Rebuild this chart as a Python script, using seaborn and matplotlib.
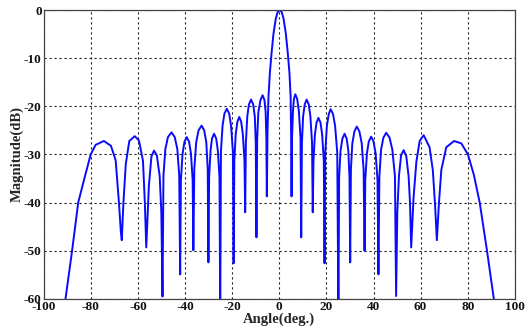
import matplotlib
matplotlib.use("Agg")
import matplotlib.pyplot as plt
import seaborn as sns
import pandas as pd

# Array-factor pattern, sampled at nulls, lobe shoulders and lobe peaks
angle_deg = [
    -91.2, -90.8, -88.0, -85.4, -83.0, -80.1, -78.0, -74.5, -71.5, -69.5, -68.1, -67.3, -66.9,
    -66.2, -65.2, -63.7, -61.4, -59.6, -57.9, -57.1, -56.5,
    -55.4, -54.3, -53.2, -52.0, -50.8, -50.1, -49.6,
    -49.2, -48.4, -47.3, -45.8, -44.4, -43.3, -42.5, -42.1,
    -41.8, -41.1, -40.3, -39.3, -38.3, -37.5, -36.8, -36.5,
    -36.1, -35.3, -34.3, -33.0, -31.9, -31.0, -30.4, -30.1,
    -29.8, -29.2, -28.6, -27.7, -26.8, -26.1, -25.4, -25.1,
    -24.8, -24.1, -23.3, -22.3, -21.3, -20.5, -19.7, -19.4,
    -19.1, -18.5, -17.8, -17.0, -16.2, -15.5, -14.8, -14.5,
    -14.2, -13.6, -12.9, -12.0, -11.1, -10.4, -10.0, -9.7,
    -9.4, -8.9, -8.0, -7.1, -6.3, -5.8, -5.5, -5.3,
    -5.0, -4.6, -4.0, -3.3, -2.5, -1.5, -0.7, 0.2, 1.0, 1.8, 2.8, 3.6, 4.3, 4.8, 5.0, 5.2,
    5.4, 5.8, 6.2, 6.8, 7.6, 8.3, 9.0, 9.3,
    9.6, 10.1, 10.8, 11.6, 12.5, 13.2, 13.9, 14.2,
    14.5, 15.1, 15.8, 16.6, 17.5, 18.2, 18.9, 19.2,
    19.5, 20.2, 21.0, 21.8, 22.8, 23.7, 24.6, 25.1,
    25.4, 26.0, 26.8, 27.7, 28.6, 29.3, 29.8, 30.1,
    30.4, 31.0, 31.9, 32.9, 34.0, 35.0, 35.8, 36.2,
    36.5, 37.2, 38.0, 39.0, 40.0, 40.9, 41.7, 42.1,
    42.5, 43.2, 44.2, 45.4, 46.8, 48.0, 49.1, 49.6,
    50.1, 50.8, 51.7, 52.8, 53.9, 54.9, 55.5, 56.0,
    57.0, 58.2, 59.6, 61.3, 63.8, 65.2, 66.2, 66.9,
    67.8, 68.8, 70.9, 74.2, 77.3, 80.1, 82.6, 85.1, 88.2, 91.1, 91.5,
]
magnitude_db = [
    -62.0, -60.0, -50.0, -40.0, -35.4, -30.0, -28.0, -27.2, -28.2, -31.2, -40.0, -46.0, -47.8,
    -40.0, -32.0, -27.2, -26.2, -27.1, -31.3, -40.0, -49.3,
    -36.6, -30.4, -29.2, -30.2, -34.5, -42.0, -59.5,
    -34.4, -28.9, -26.4, -25.4, -26.4, -28.9, -34.4, -54.9,
    -35.4, -29.9, -27.4, -26.4, -27.4, -29.9, -35.4, -49.9,
    -33.0, -27.5, -25.0, -24.0, -25.0, -27.5, -33.0, -52.4,
    -34.7, -29.2, -26.7, -25.7, -26.7, -29.2, -34.7, -64.0,
    -29.5, -24.0, -21.5, -20.5, -21.5, -24.0, -29.5, -52.6,
    -31.2, -25.7, -23.2, -22.2, -23.2, -25.7, -31.2, -42.0,
    -27.6, -22.1, -19.6, -18.6, -19.6, -22.1, -27.6, -47.2,
    -26.7, -21.2, -18.7, -17.7, -18.7, -21.2, -26.7, -38.7,
    -25.0, -18.0, -13.0, -9.0, -5.0, -1.8, -0.4, 0.0, -0.4, -1.8, -5.0, -9.0, -13.0, -18.0, -25.0, -38.7,
    -26.5, -21.0, -18.5, -17.5, -18.5, -21.0, -26.5, -47.2,
    -27.6, -22.1, -19.6, -18.6, -19.6, -22.1, -27.6, -42.0,
    -31.4, -25.9, -23.4, -22.4, -23.4, -25.9, -31.4, -52.6,
    -29.6, -24.1, -21.6, -20.6, -21.6, -24.1, -29.6, -64.0,
    -34.7, -29.2, -26.7, -25.7, -26.7, -29.2, -34.7, -52.4,
    -33.2, -27.7, -25.2, -24.2, -25.2, -27.7, -33.2, -50.0,
    -35.3, -29.8, -27.3, -26.3, -27.3, -29.8, -35.3, -54.9,
    -34.5, -29.0, -26.5, -25.5, -26.5, -29.0, -34.5, -59.4,
    -42.0, -34.5, -30.2, -29.1, -30.3, -34.5, -40.0, -49.3,
    -39.0, -31.5, -27.2, -26.0, -28.5, -33.3, -41.0, -47.8,
    -40.0, -33.2, -28.5, -27.2, -27.7, -30.0, -34.2, -40.0, -50.0, -60.0, -62.0,
]

x_ticks = [-100, -80, -60, -40, -20, 0, 20, 40, 60, 80, 100]
y_ticks = [-60, -50, -40, -30, -20, -10, 0]

df = pd.DataFrame({"Angle": angle_deg, "Magnitude": magnitude_db})

sns.set_style("white")
plt.rcParams["font.family"] = ["Liberation Serif", "DejaVu Serif"]
plt.rcParams["font.weight"] = "bold"
plt.rcParams["axes.unicode_minus"] = False

fig = plt.figure(figsize=(5.28, 3.34), dpi=100)
ax = fig.add_axes([0.083, 0.105, 0.892, 0.865])

sns.lineplot(data=df, x="Angle", y="Magnitude", sort=False, estimator=None,
             color="#0a0aff", linewidth=1.4, ax=ax)

ax.set_xlim(-100, 100)
ax.set_ylim(-60, 0)
ax.set_xticks(x_ticks)
ax.set_yticks(y_ticks)
ax.grid(True, color="#222222", linestyle=(0, (2.0, 2.5)), linewidth=0.8)
ax.tick_params(direction="in", length=4, width=0.8, colors="#222222",
               labelsize=9.5, labelcolor="#111111", pad=1.5)
for lbl in ax.get_xticklabels() + ax.get_yticklabels():
    lbl.set_fontweight("bold")
for sp in ax.spines.values():
    sp.set_color("#444444")
    sp.set_linewidth(0.9)

ax.set_xlabel("Angle(deg.)", fontsize=10.5, fontweight="bold", labelpad=0)
ax.set_ylabel("Magnitude(dB)", fontsize=10.5, fontweight="bold", labelpad=0)

fig.savefig("out.png", dpi=100)
